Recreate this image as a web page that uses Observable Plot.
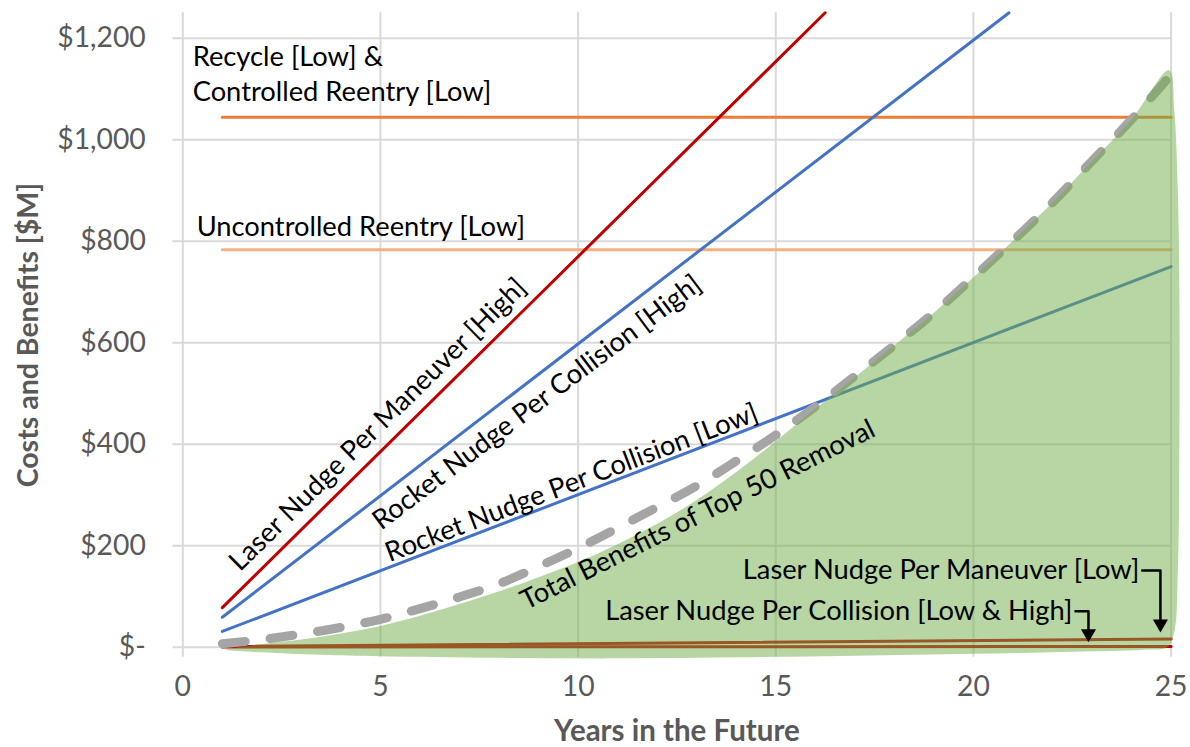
<!DOCTYPE html>
<html>
<head>
<meta charset="utf-8">
<script src="https://cdn.jsdelivr.net/npm/d3@7"></script>
<script src="https://cdn.jsdelivr.net/npm/@observablehq/plot@0.6"></script>
<style>
  html, body { margin: 0; padding: 0; background: #fff; }
  #chart svg { display: block; }
</style>
</head>
<body>
<div id="chart"></div>
<script>
// ---------- axes ----------
const xTicks = [0, 5, 10, 15, 20, 25];
const yTicks = [0, 200, 400, 600, 800, 1000, 1200];
const yTickLabels = ["$-", "$200", "$400", "$600", "$800", "$1,000", "$1,200"];
const xTitle = "Years in the Future";
const yTitle = "Costs and Benefits [$M]";

// ---------- series (years, $M) ----------
const benefitYears  = [1,2,3,4,5,6,7,8,9,10,11,12,13,14,15,16,17,18,19,20,21,22,23,24,25];
const benefitValues = [7,15,26,39,55,76,99,125,159,195,235,276,318,367,418,474,534,595,659,729,801,876,958,1040,1128];

const laserManHighX = [1, 16.25];  const laserManHighY = [78, 1250];
const rocketColHighX = [1, 20.9];  const rocketColHighY = [59, 1250];
const rocketColLowX = [1, 25];     const rocketColLowY = [31, 750];
const laserManLowX = [1, 25];      const laserManLowY = [1.5, 16];
const laserColX = [1, 25];         const laserColY = [0.5, 1.4];
const recycleX = [1, 25];          const recycleY = [1044, 1044];
const uncontrolledX = [1, 25];     const uncontrolledY = [783, 783];

// green "benefits" region outline: bottom edge, right edge, top edge
const greenX = [1.1, 2, 3.5, 5, 8, 11, 14, 17, 20, 22.5, 24.3, 24.9, 25.08, 25.17, 25.21, 25.21, 25.17, 25.08, 24.95,
                24, 23, 22, 21, 20, 19, 18, 17, 16, 15, 14, 13, 12, 11, 10, 9, 8, 7, 6, 5, 4, 3, 2];
const greenY = [-5, -10, -15, -18, -21, -22, -20, -17, -13, -9, -5, 0, 30, 150, 400, 700, 900, 1060, 1137,
                1040, 958, 876, 801, 729, 659, 595, 532, 470, 406, 345, 290, 243, 203, 168, 138, 110, 85, 62, 42, 27, 15, 6];

// ---------- labels ----------
const labelTexts = [
  "Recycle [Low] &\nControlled Reentry [Low]",
  "Uncontrolled Reentry [Low]",
  "Laser Nudge Per Maneuver [High]",
  "Rocket Nudge Per Collision [High]",
  "Rocket Nudge Per Collision [Low]",
  "Total Benefits of Top 50 Removal",
  "Laser Nudge Per Maneuver [Low]",
  "Laser Nudge Per Collision [Low & High]"
];
const labelX = [0.25, 0.35, 4.89, 8.92, 9.81, 13.0, 24.2, 22.5];
const labelY = [1132, 832, 442, 486, 328, 265, 157, 76];
const labelAngles = [0, 0, -44.5, -37, -21, -26.5, 0, 0];
const labelAnchors = ["start", "start", "middle", "middle", "middle", "middle", "end", "end"];

// annotation arrows (elbow paths + heads)
const arrowId = ["man", "man", "man", "col", "col", "col"];
const arrowX = [24.27, 24.73, 24.73, 22.58, 22.91, 22.91];
const arrowY = [151, 151, 46, 71, 71, 27];
const headX = [24.73, 22.91];
const headY = [46, 27];

// ---------- build tables ----------
const zip = (xs, ys, extra = {}) => xs.map((x, i) => ({x, y: ys[i], ...extra}));
const benefits = zip(benefitYears, benefitValues);
const green = zip(greenX, greenY);
const labels = labelTexts.map((t, i) => ({text: t, x: labelX[i], y: labelY[i], rotate: labelAngles[i], anchor: labelAnchors[i]}));
const arrows = arrowX.map((x, i) => ({x, y: arrowY[i], id: arrowId[i]}));
const heads = zip(headX, headY);

const FONT = "Lato, 'Open Sans', sans-serif";
const FS = 27.3;
const AX = "#595959";

const lineMark = (xs, ys, color, w = 3) =>
  Plot.line(zip(xs, ys), {x: "x", y: "y", stroke: color, strokeWidth: w, strokeLinecap: "round"});

const textMarks = ["start", "middle", "end"].flatMap(anchor =>
  [...new Set(labels.filter(d => d.anchor === anchor).map(d => d.rotate))].map(rot =>
    Plot.text(labels.filter(d => d.anchor === anchor && d.rotate === rot), {
      x: "x", y: "y", text: "text", rotate: rot, textAnchor: anchor, lineAnchor: "middle",
      fontSize: FS, lineHeight: 35 / FS, fill: "#000", fontFamily: FONT
    })
  )
);

const chart = Plot.plot({
  width: 1190,
  height: 747,
  marginLeft: 182.3,
  marginRight: 19.4,
  marginTop: 12.3,
  marginBottom: 90.15,
  x: {domain: [0, 25]},
  y: {domain: [-20, 1250]},
  style: {fontFamily: FONT, background: "#fff", overflow: "visible"},
  marks: [
    Plot.ruleX(xTicks, {y1: -20, y2: 1250, stroke: "#d9d9d9", strokeWidth: 2}),
    Plot.ruleY(yTicks, {x1: -0.25, x2: 25, stroke: "#d9d9d9", strokeWidth: 2}),
    Plot.axisY({ticks: yTicks, tickFormat: d => yTickLabels[yTicks.indexOf(d)], tickSize: 0, tickPadding: 37,
      fontSize: 28.3, color: AX, label: null}),
    Plot.axisX({ticks: xTicks, tickSize: 0, tickPadding: 19, fontSize: 28.3, color: AX, label: null}),
    lineMark(recycleX, recycleY, "#ED7D31"),
    lineMark(uncontrolledX, uncontrolledY, "#F4B183"),
    lineMark(laserManHighX, laserManHighY, "#C00000"),
    lineMark(rocketColHighX, rocketColHighY, "#4472C4"),
    lineMark(rocketColLowX, rocketColLowY, "#4472C4"),
    lineMark(laserManLowX, laserManLowY, "#C00000"),
    lineMark(laserColX, laserColY, "#C00000"),
    Plot.line(benefits, {x: "x", y: "y", stroke: "#A5A5A5", strokeWidth: 9, strokeDasharray: "23,25",
      strokeLinecap: "round", curve: "catmull-rom"}),
    Plot.line(green, {x: "x", y: "y", curve: "catmull-rom-closed", fill: "#70AD47", fillOpacity: 0.5, stroke: "none"}),
    ...textMarks,
    Plot.line(arrows, {x: "x", y: "y", z: "id", stroke: "#000", strokeWidth: 2.5}),
    Plot.dot(heads, {x: "x", y: "y", symbol: "triangle", r: 5.6, rotate: 180, fill: "#000", stroke: "none"}),
    Plot.text([xTitle], {frameAnchor: "bottom", dy: 74, fontSize: 29.5, fontWeight: "bold", fill: AX, fontFamily: FONT, lineAnchor: "middle"}),
    Plot.text([yTitle], {frameAnchor: "left", dx: -154, rotate: -90, textAnchor: "middle", fontSize: 28.5, fontWeight: "bold", fill: AX, fontFamily: FONT, lineAnchor: "middle"})
  ]
});
document.getElementById("chart").appendChild(chart);
</script>
</body>
</html>
